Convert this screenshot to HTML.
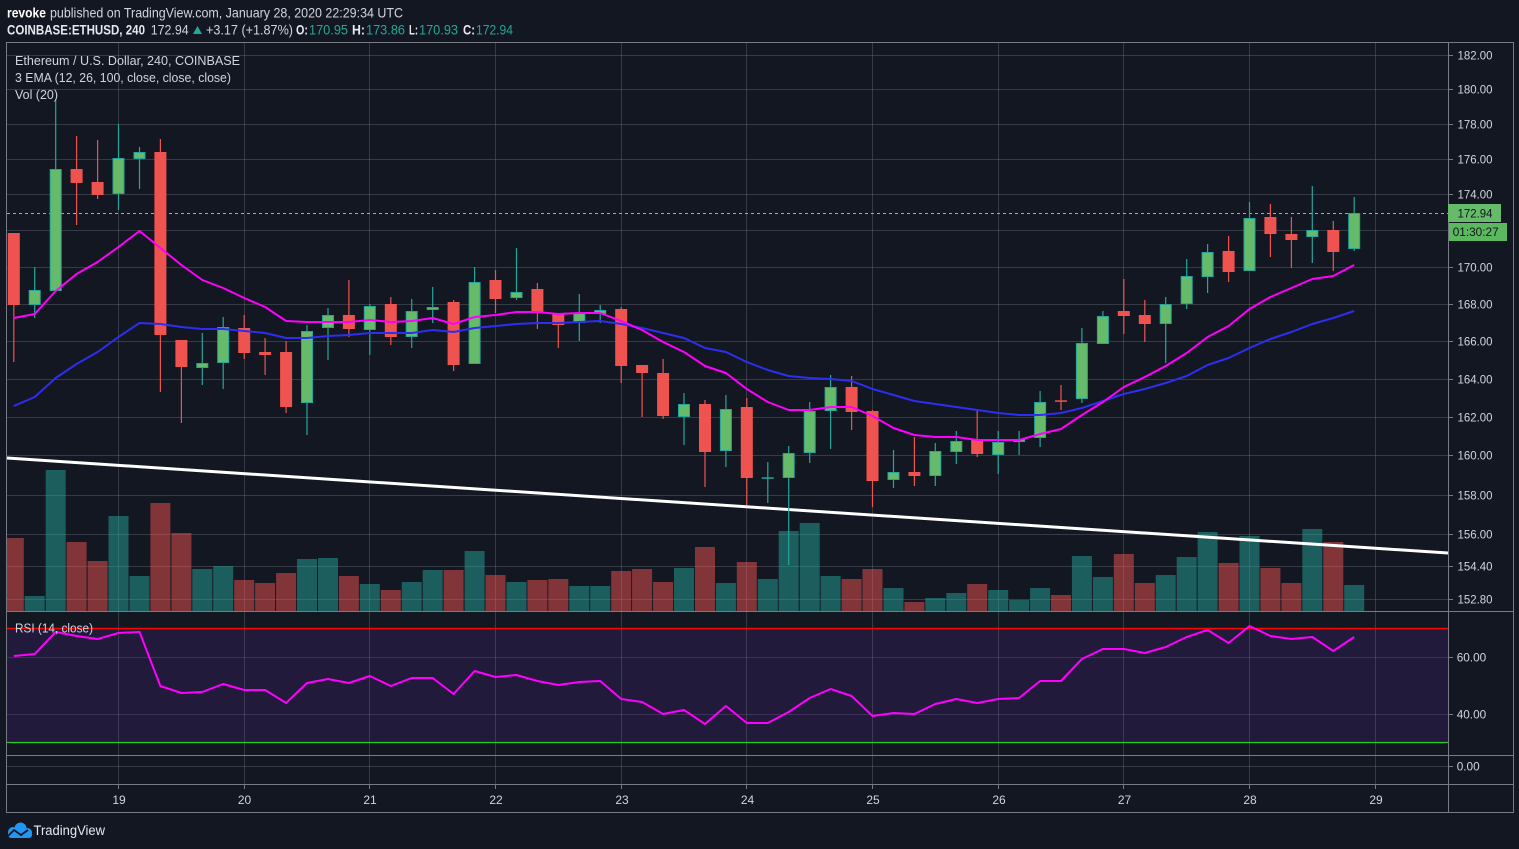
<!DOCTYPE html>
<html><head><meta charset="utf-8"><style>
html,body{margin:0;padding:0;background:#131722;}
svg{display:block;font-family:"Liberation Sans",sans-serif;}
</style></head><body>
<svg width="1519" height="849" viewBox="0 0 1519 849" xmlns="http://www.w3.org/2000/svg">
<defs>
<clipPath id="cm"><rect x="7" y="43" width="1441" height="568"/></clipPath>
<clipPath id="cr"><rect x="7" y="612" width="1441" height="143"/></clipPath>
</defs>
<rect width="1519" height="849" fill="#131722"/>

<!-- header -->
<g font-size="14" fill="#d1d4dc">
<text x="7" y="17.5" font-weight="bold" fill="#ffffff" textLength="39" lengthAdjust="spacingAndGlyphs">revoke</text>
<text x="50" y="17.5" textLength="353" lengthAdjust="spacingAndGlyphs">published on TradingView.com, January 28, 2020 22:29:34 UTC</text>
<text x="7" y="34.5" font-weight="bold" fill="#e6e8ee" textLength="138" lengthAdjust="spacingAndGlyphs">COINBASE:ETHUSD, 240</text>
<text x="150.7" y="34.5" textLength="38" lengthAdjust="spacingAndGlyphs">172.94</text>
<polygon points="193,34 202,34 197.5,26" fill="#26a69a"/>
<text x="206" y="34.5" textLength="87" lengthAdjust="spacingAndGlyphs">+3.17 (+1.87%)</text>
<text x="296" y="34.5" font-weight="bold" fill="#e6e8ee" textLength="12" lengthAdjust="spacingAndGlyphs">O:</text>
<text x="309" y="34.5" fill="#26a69a" textLength="39" lengthAdjust="spacingAndGlyphs">170.95</text>
<text x="352" y="34.5" font-weight="bold" fill="#e6e8ee" textLength="13" lengthAdjust="spacingAndGlyphs">H:</text>
<text x="366" y="34.5" fill="#26a69a" textLength="39" lengthAdjust="spacingAndGlyphs">173.86</text>
<text x="409" y="34.5" font-weight="bold" fill="#e6e8ee" textLength="9" lengthAdjust="spacingAndGlyphs">L:</text>
<text x="419" y="34.5" fill="#26a69a" textLength="39" lengthAdjust="spacingAndGlyphs">170.93</text>
<text x="463" y="34.5" font-weight="bold" fill="#e6e8ee" textLength="12" lengthAdjust="spacingAndGlyphs">C:</text>
<text x="476" y="34.5" fill="#26a69a" textLength="37" lengthAdjust="spacingAndGlyphs">172.94</text>
</g>

<!-- RSI fill -->
<rect x="7" y="628" width="1441" height="115" fill="#211a3b"/>

<!-- horizontal grid main -->
<g stroke="#363a45" stroke-width="1">
<path d="M7 55.5H1448M7 89.5H1448M7 124.5H1448M7 159.5H1448M7 194.5H1448M7 230.5H1448M7 267.5H1448M7 304.5H1448M7 341.5H1448M7 379.5H1448M7 417.5H1448M7 455.5H1448M7 495.5H1448M7 534.5H1448M7 566.5H1448M7 599.5H1448M7 766.5H1448"/>
</g>
<path d="M7 657.5H1448M7 714.5H1448" stroke="#3d3358" stroke-width="1"/>
<!-- vertical grid -->
<path d="M118.5 43V784M244.5 43V784M369.5 43V784M495.5 43V784M621.5 43V784M746.5 43V784M872.5 43V784M998.5 43V784M1123.5 43V784M1249.5 43V784M1375.5 43V784" stroke="rgba(120,123,134,0.35)" stroke-width="1"/>

<!-- volume -->
<g clip-path="url(#cm)">
<g fill="rgba(38,166,154,0.5)">
<rect x="24.7" y="596" width="20" height="15"/><rect x="45.7" y="470" width="20" height="141"/><rect x="108.5" y="516" width="20" height="95"/><rect x="129.5" y="576" width="20" height="35"/><rect x="192.3" y="569" width="20" height="42"/><rect x="213.2" y="566" width="20" height="45"/><rect x="297" y="559" width="20" height="52"/><rect x="318" y="558" width="20" height="53"/><rect x="359.8" y="584" width="20" height="27"/><rect x="401.7" y="582" width="20" height="29"/><rect x="422.7" y="570" width="20" height="41"/><rect x="464.6" y="551" width="20" height="60"/><rect x="506.5" y="582" width="20" height="29"/><rect x="569.3" y="586" width="20" height="25"/><rect x="590.2" y="586" width="20" height="25"/><rect x="674" y="568" width="20" height="43"/><rect x="715.9" y="583" width="20" height="28"/><rect x="757.8" y="579" width="20" height="32"/><rect x="778.7" y="531" width="20" height="80"/><rect x="799.7" y="523" width="20" height="88"/><rect x="820.6" y="576" width="20" height="35"/><rect x="883.5" y="588" width="20" height="23"/><rect x="925.3" y="598" width="20" height="13"/><rect x="946.3" y="593" width="20" height="18"/><rect x="988.2" y="590" width="20" height="21"/><rect x="1009.1" y="600" width="20" height="11"/><rect x="1030.1" y="588" width="20" height="23"/><rect x="1071.9" y="556" width="20" height="55"/><rect x="1092.9" y="577" width="20" height="34"/><rect x="1155.7" y="575" width="20" height="36"/><rect x="1176.7" y="557" width="20" height="54"/><rect x="1197.6" y="532" width="20" height="79"/><rect x="1239.5" y="536" width="20" height="75"/><rect x="1302.3" y="529" width="20" height="82"/><rect x="1344.2" y="585" width="20" height="26"/>
</g>
<g fill="rgba(239,83,80,0.5)">
<rect x="3.8" y="538" width="20" height="73"/><rect x="66.6" y="542" width="20" height="69"/><rect x="87.6" y="561" width="20" height="50"/><rect x="150.4" y="503" width="20" height="108"/><rect x="171.4" y="533" width="20" height="78"/><rect x="234.2" y="580" width="20" height="31"/><rect x="255.1" y="583" width="20" height="28"/><rect x="276.1" y="573" width="20" height="38"/><rect x="338.9" y="576" width="20" height="35"/><rect x="380.8" y="590" width="20" height="21"/><rect x="443.6" y="570" width="20" height="41"/><rect x="485.5" y="575" width="20" height="36"/><rect x="527.4" y="580" width="20" height="31"/><rect x="548.3" y="579" width="20" height="32"/><rect x="611.2" y="571" width="20" height="40"/><rect x="632.1" y="569" width="20" height="42"/><rect x="653.1" y="582" width="20" height="29"/><rect x="695" y="547" width="20" height="64"/><rect x="736.8" y="562" width="20" height="49"/><rect x="841.6" y="579" width="20" height="32"/><rect x="862.5" y="569" width="20" height="42"/><rect x="904.4" y="602" width="20" height="9"/><rect x="967.2" y="584" width="20" height="27"/><rect x="1051" y="595" width="20" height="16"/><rect x="1113.8" y="554" width="20" height="57"/><rect x="1134.8" y="583" width="20" height="28"/><rect x="1218.6" y="563" width="20" height="48"/><rect x="1260.4" y="568" width="20" height="43"/><rect x="1281.4" y="583" width="20" height="28"/><rect x="1323.3" y="542" width="20" height="69"/>
</g>

<!-- trend line -->
<line x1="7" y1="458" x2="1448" y2="553" stroke="#ffffff" stroke-width="3"/>

<!-- dashed price line -->
<line x1="7" y1="213.5" x2="1448" y2="213.5" stroke="#81c784" stroke-width="1" stroke-dasharray="3,3"/>

<!-- wicks -->
<path fill="none" stroke="#26a69a" stroke-width="1.2" d="M34.7 267V318M55.7 100V291M118.5 124V210M139.5 147V189M202.3 333V385M223.2 317V389M307 325V435M328 308V360M369.8 304V355M411.7 299V348M432.7 287V323M474.6 267V364M516.5 248V300M579.3 294V341M600.2 305V323M684 393V445M725.9 395V467M767.8 462V503M788.7 446V565M809.7 402V463M830.6 375V449M893.5 450V488M935.3 443V486M956.3 431V464M998.2 431V474M1019.1 431V455M1040.1 391V447M1081.9 328V403M1102.9 311V344M1165.7 297V363M1186.7 259V309M1207.6 244V293M1249.5 202V271M1312.3 186V263M1354.2 197V251"/>
<path fill="none" stroke="#ef5350" stroke-width="1.2" d="M13.8 233V362M76.6 136V225M97.6 140V199M160.4 139V392M181.4 340V423M244.2 315V359M265.1 338V375M286.1 341V413M348.9 280V337M390.8 297V345M453.6 300V371M495.5 270V313M537.4 283V329M558.3 313V348M621.2 307V383M642.1 365V417M663.1 359V419M705 400V487M746.8 398V505M851.6 376V430M872.5 410V507M914.4 437V486M977.2 409V457M1061 385V410M1123.8 279V334M1144.8 300V342M1228.6 236V282M1270.4 204V257M1291.4 217V268M1333.3 221V271"/>

<!-- green bodies -->
<g fill="#66bb6a" stroke="#26a69a" stroke-width="1">
<rect x="29.2" y="290.5" width="11" height="14"/><rect x="50.2" y="169.5" width="11" height="121"/><rect x="113" y="158.5" width="11" height="35"/><rect x="134" y="152.5" width="11" height="6"/><rect x="196.8" y="363.5" width="11" height="4"/><rect x="217.7" y="327.5" width="11" height="35"/><rect x="301.5" y="331.5" width="11" height="71"/><rect x="322.5" y="315.5" width="11" height="12"/><rect x="364.3" y="306.5" width="11" height="23"/><rect x="406.2" y="311.5" width="11" height="25"/><rect x="427.2" y="307.5" width="11" height="2"/><rect x="469.1" y="282.5" width="11" height="81"/><rect x="511" y="292.5" width="11" height="5"/><rect x="573.8" y="313.5" width="11" height="9"/><rect x="594.7" y="310.5" width="11" height="3"/><rect x="678.5" y="404.5" width="11" height="12"/><rect x="720.4" y="409.5" width="11" height="41"/><rect x="783.2" y="453.5" width="11" height="24"/><rect x="804.2" y="411.5" width="11" height="41"/><rect x="825.1" y="387.5" width="11" height="23"/><rect x="888" y="472.5" width="11" height="7"/><rect x="929.8" y="451.5" width="11" height="24"/><rect x="950.8" y="441.5" width="11" height="10"/><rect x="992.7" y="442.5" width="11" height="12"/><rect x="1013.6" y="439.5" width="11" height="2"/><rect x="1034.6" y="402.5" width="11" height="35"/><rect x="1076.4" y="343.5" width="11" height="55"/><rect x="1097.4" y="316.5" width="11" height="27"/><rect x="1160.2" y="304.5" width="11" height="19"/><rect x="1181.2" y="276.5" width="11" height="27"/><rect x="1202.1" y="252.5" width="11" height="24"/><rect x="1244" y="218.5" width="11" height="52"/><rect x="1306.8" y="230.5" width="11" height="6"/><rect x="1348.7" y="213.5" width="11" height="35"/>
</g>
<rect x="761.8" y="477.3" width="12" height="1.5" fill="#26a69a"/>
<!-- red bodies -->
<g fill="#ef5350">
<rect x="7.8" y="233" width="12" height="72"/><rect x="70.6" y="169" width="12" height="14"/><rect x="91.6" y="182" width="12" height="13"/><rect x="154.4" y="152" width="12" height="183"/><rect x="175.4" y="340" width="12" height="27"/><rect x="238.2" y="328" width="12" height="25"/><rect x="259.1" y="352" width="12" height="3"/><rect x="280.1" y="352" width="12" height="55"/><rect x="342.9" y="315" width="12" height="14"/><rect x="384.8" y="304" width="12" height="33"/><rect x="447.6" y="302" width="12" height="63"/><rect x="489.5" y="280" width="12" height="19"/><rect x="531.4" y="289" width="12" height="23"/><rect x="552.3" y="313" width="12" height="12"/><rect x="615.2" y="309" width="12" height="57"/><rect x="636.1" y="365" width="12" height="8"/><rect x="657.1" y="373" width="12" height="43"/><rect x="699" y="404" width="12" height="48"/><rect x="740.8" y="407" width="12" height="71"/><rect x="845.6" y="387" width="12" height="25"/><rect x="866.5" y="411" width="12" height="70"/><rect x="908.4" y="472" width="12" height="4"/><rect x="971.2" y="440" width="12" height="14"/><rect x="1055" y="400.3" width="12" height="1.5"/><rect x="1117.8" y="311" width="12" height="5"/><rect x="1138.8" y="315" width="12" height="9"/><rect x="1222.6" y="251" width="12" height="21"/><rect x="1264.4" y="217" width="12" height="17"/><rect x="1285.4" y="234" width="12" height="6"/><rect x="1327.3" y="230" width="12" height="22"/>
</g>

<!-- EMAs -->
<polyline fill="none" stroke="#2e2ef0" stroke-width="2" stroke-linejoin="round" points="13.8,406 34.7,397 55.7,378 76.6,364 97.6,352 118.5,337 139.5,323 160.4,324 181.4,327 202.3,329 223.2,329 244.2,331 265.1,333 286.1,338 307,338 328,336 348.9,335 369.8,333 390.8,333 411.7,333 432.7,330 453.6,332 474.6,328 495.5,326 516.5,324 537.4,323 558.3,323 579.3,322 600.2,321 621.2,324 642.1,328 663.1,333 684,338 705,348 725.9,352 746.8,362 767.8,370 788.7,376 809.7,378 830.6,379 851.6,381 872.5,389 893.5,395 914.4,401 935.3,404 956.3,407 977.2,410 998.2,413 1019.1,415 1040.1,415 1061,413 1081.9,408 1102.9,401 1123.8,394 1144.8,389 1165.7,383 1186.7,376 1207.6,365 1228.6,358 1249.5,348 1270.4,339 1291.4,332 1312.3,324 1333.3,318 1354.2,311"/>
<polyline fill="none" stroke="#ff00ff" stroke-width="2" stroke-linejoin="round" points="13.8,318 34.7,314 55.7,291 76.6,274 97.6,262 118.5,247 139.5,231 160.4,248 181.4,265 202.3,280 223.2,288 244.2,298 265.1,307 286.1,321 307,322 328,322 348.9,322 369.8,320 390.8,322 411.7,321 432.7,318 453.6,324 474.6,317 495.5,315 516.5,312 537.4,312 558.3,314 579.3,313 600.2,313 621.2,321 642.1,330 663.1,342 684,352 705,366 725.9,373 746.8,389 767.8,402 788.7,410 809.7,410 830.6,407 851.6,407 872.5,416 893.5,428 914.4,435 935.3,437 956.3,437 977.2,440 998.2,440 1019.1,440 1040.1,434 1061,429 1081.9,415 1102.9,402 1123.8,387 1144.8,377 1165.7,366 1186.7,353 1207.6,337 1228.6,326 1249.5,309 1270.4,297 1291.4,288 1312.3,279 1333.3,276 1354.2,265"/>
</g>

<!-- legend -->
<g font-size="13" fill="#d1d4dc">
<text x="15" y="65" textLength="225" lengthAdjust="spacingAndGlyphs">Ethereum / U.S. Dollar, 240, COINBASE</text>
<text x="15" y="82" textLength="216" lengthAdjust="spacingAndGlyphs">3 EMA (12, 26, 100, close, close, close)</text>
<text x="15" y="99" textLength="43" lengthAdjust="spacingAndGlyphs">Vol (20)</text>
</g>

<!-- RSI -->
<g clip-path="url(#cr)">
<line x1="7" y1="628.5" x2="1448" y2="628.5" stroke="#ff0000" stroke-width="1.5"/>
<line x1="7" y1="742.5" x2="1448" y2="742.5" stroke="#22cc22" stroke-width="1.2"/>
<polyline fill="none" stroke="#ff00ff" stroke-width="2" stroke-linejoin="round" points="13.8,656 34.7,654 55.7,632 76.6,636 97.6,639 118.5,633 139.5,632 160.4,686 181.4,693 202.3,692 223.2,684 244.2,690 265.1,690 286.1,703 307,683 328,679 348.9,683 369.8,676 390.8,686 411.7,678 432.7,678 453.6,694 474.6,671 495.5,677 516.5,675 537.4,681 558.3,685 579.3,682 600.2,681 621.2,699 642.1,702 663.1,714 684,710 705,724 725.9,706 746.8,723 767.8,723 788.7,712 809.7,698 830.6,689 851.6,696 872.5,716 893.5,713 914.4,714 935.3,704 956.3,699 977.2,703 998.2,699 1019.1,698 1040.1,681 1061,681 1081.9,659 1102.9,649 1123.8,649 1144.8,653 1165.7,647 1186.7,637 1207.6,630 1228.6,643 1249.5,626 1270.4,636 1291.4,639 1312.3,637 1333.3,651 1354.2,637"/>
</g>
<text x="15" y="632.5" font-size="12.5" fill="#d1d4dc" textLength="78" lengthAdjust="spacingAndGlyphs">RSI (14, close)</text>

<!-- frame -->
<g stroke="#787b86" stroke-width="1" fill="none">
<rect x="6.5" y="42.5" width="1507" height="770"/>
<path d="M1448.5 43V812M7 611.5H1513M7 755.5H1513M7 784.5H1513"/>
<path d="M1448 55.5h5M1448 89.5h5M1448 124.5h5M1448 159.5h5M1448 194.5h5M1448 267.5h5M1448 304.5h5M1448 341.5h5M1448 379.5h5M1448 417.5h5M1448 455.5h5M1448 495.5h5M1448 534.5h5M1448 566.5h5M1448 599.5h5M1448 657.5h5M1448 714.5h5M1448 766.5h5"/>
<path d="M118.5 784V789M244.5 784V789M369.5 784V789M495.5 784V789M621.5 784V789M746.5 784V789M872.5 784V789M998.5 784V789M1123.5 784V789M1249.5 784V789M1375.5 784V789"/>
</g>

<!-- price axis labels -->
<g font-size="12" fill="#d1d4dc">
<text x="1457.5" y="59.5" textLength="35" lengthAdjust="spacingAndGlyphs">182.00</text>
<text x="1457.5" y="93.5" textLength="35" lengthAdjust="spacingAndGlyphs">180.00</text>
<text x="1457.5" y="128.5" textLength="35" lengthAdjust="spacingAndGlyphs">178.00</text>
<text x="1457.5" y="163.5" textLength="35" lengthAdjust="spacingAndGlyphs">176.00</text>
<text x="1457.5" y="198.5" textLength="35" lengthAdjust="spacingAndGlyphs">174.00</text>
<text x="1457.5" y="271.5" textLength="35" lengthAdjust="spacingAndGlyphs">170.00</text>
<text x="1457.5" y="308.5" textLength="35" lengthAdjust="spacingAndGlyphs">168.00</text>
<text x="1457.5" y="345.5" textLength="35" lengthAdjust="spacingAndGlyphs">166.00</text>
<text x="1457.5" y="383.5" textLength="35" lengthAdjust="spacingAndGlyphs">164.00</text>
<text x="1457.5" y="421.5" textLength="35" lengthAdjust="spacingAndGlyphs">162.00</text>
<text x="1457.5" y="459.5" textLength="35" lengthAdjust="spacingAndGlyphs">160.00</text>
<text x="1457.5" y="499.5" textLength="35" lengthAdjust="spacingAndGlyphs">158.00</text>
<text x="1457.5" y="538.5" textLength="35" lengthAdjust="spacingAndGlyphs">156.00</text>
<text x="1457.5" y="570.5" textLength="35" lengthAdjust="spacingAndGlyphs">154.40</text>
<text x="1457.5" y="603.5" textLength="35" lengthAdjust="spacingAndGlyphs">152.80</text>
<text x="1456.7" y="661.5" textLength="29.5" lengthAdjust="spacingAndGlyphs">60.00</text>
<text x="1456.7" y="718.5" textLength="29.5" lengthAdjust="spacingAndGlyphs">40.00</text>
<text x="1456.7" y="770.5" textLength="23" lengthAdjust="spacingAndGlyphs">0.00</text>
</g>

<!-- current price labels -->
<rect x="1448" y="204" width="53" height="18" fill="#66bb6a"/>
<text x="1457.5" y="217.5" font-size="12" fill="#131722" textLength="35" lengthAdjust="spacingAndGlyphs">172.94</text>
<rect x="1449" y="223" width="58" height="18" fill="#5cb85f"/>
<text x="1452.7" y="236" font-size="12" fill="#131722" textLength="46" lengthAdjust="spacingAndGlyphs">01:30:27</text>

<!-- time labels -->
<g font-size="12" fill="#d1d4dc" text-anchor="middle">
<text x="119" y="804">19</text>
<text x="244.5" y="804">20</text>
<text x="370" y="804">21</text>
<text x="496" y="804">22</text>
<text x="622" y="804">23</text>
<text x="747.5" y="804">24</text>
<text x="873" y="804">25</text>
<text x="999" y="804">26</text>
<text x="1124.5" y="804">27</text>
<text x="1250" y="804">28</text>
<text x="1376" y="804">29</text>
</g>

<!-- logo -->
<g>
<circle cx="13" cy="832" r="5" fill="#2196f3"/>
<circle cx="20.5" cy="828.5" r="6" fill="#2196f3"/>
<circle cx="27.5" cy="832.5" r="4.5" fill="#2196f3"/>
<rect x="8" y="831" width="24" height="7" rx="3" fill="#2196f3"/>
<polyline points="7,837 14,830 21,835 28,830" fill="none" stroke="#131722" stroke-width="1.8"/>
</g>
<text x="33.5" y="835" font-size="13.5" fill="#e8e9ee" textLength="71.5" lengthAdjust="spacingAndGlyphs">TradingView</text>
</svg>
</body></html>
